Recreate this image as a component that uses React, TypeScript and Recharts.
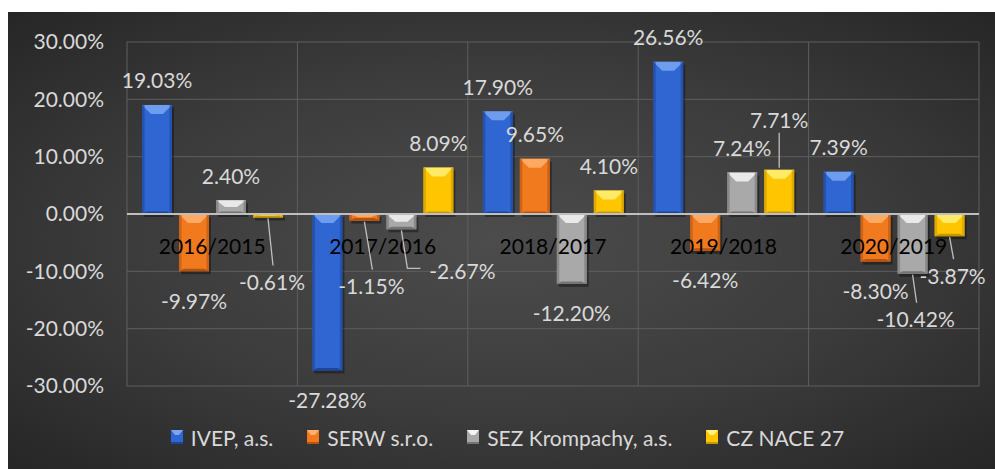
import { BarChart, Bar, XAxis, YAxis, CartesianGrid, ReferenceLine, Legend, LabelList } from 'recharts'

const categories = ['2016/2015', '2017/2016', '2018/2017', '2019/2018', '2020/2019']
const ivep = [19.03, -27.28, 17.9, 26.56, 7.39]
const serw = [-9.97, -1.15, 9.65, -6.42, -8.3]
const sez = [2.4, -2.67, -12.2, 7.24, -10.42]
const nace = [-0.61, 8.09, 4.1, 7.71, -3.87]
const yTicks = [-30, -20, -10, 0, 10, 20, 30]

const data = categories.map((name, i) => ({
  name,
  ivep: ivep[i],
  serw: serw[i],
  sez: sez[i],
  nace: nace[i],
}))

const series = [
  { key: 'ivep', name: 'IVEP, a.s.', base: '#2f66d2', light: '#79a6f4', dark: '#1c4597' },
  { key: 'serw', name: 'SERW s.r.o.', base: '#f27a1e', light: '#ffb070', dark: '#b5530f' },
  { key: 'sez', name: 'SEZ Krompachy, a.s.', base: '#a9a9a9', light: '#f4f4f4', dark: '#747474' },
  { key: 'nace', name: 'CZ NACE 27', base: '#ffc600', light: '#fff07a', dark: '#c89700' },
]

// label nudges (dx, dy) where excel moved a label out with a leader line
const labelShift: Record<string, ([number, number] | null)[]> = {
  ivep: [null, null, null, null, null],
  serw: [null, [7, 36], null, null, null],
  sez: [null, [61, 12], null, null, [3, 16]],
  nace: [[4, 35], null, null, [0, -25], [3, 10]],
}

const W = 987
const H = 457
const MARGIN = { top: 30, right: 16, left: 0, bottom: 20 }
const PLOT_H = 344
const FONT = 'Lato, "Open Sans", sans-serif'
const TEXT = '#d9d9d9'

const BevelBar = (props: any) => {
  const { x, y, width, height, base, light, dark } = props
  if (!width || height === undefined) return null
  const t = Math.min(y, y + height)
  const h = Math.abs(height)
  const w = width
  const b = Math.min(9, h / 2)
  const s = Math.min(2.5, h / 2)
  return (
    <g>
      <rect x={x + 2} y={t + 3} width={w} height={h} fill='rgba(0,0,0,0.35)' />
      <rect x={x} y={t} width={w} height={h} fill={base} />
      <polygon
        points={`${x},${t} ${x + w},${t} ${x + w / 2 + 6},${t + b} ${x + w / 2 - 6},${t + b}`}
        fill={light}
        opacity={0.85}
      />
      <polygon
        points={`${x},${t + h} ${x + w},${t + h} ${x + w - s * 2},${t + h - s} ${x + s * 2},${t + h - s}`}
        fill={dark}
      />
      <rect x={x} y={t} width={s} height={h} fill={dark} opacity={0.6} />
      <rect x={x + w - s} y={t} width={s} height={h} fill={dark} opacity={0.6} />
    </g>
  )
}

const makeLabel = (key: string) => (props: any) => {
  const { x, y, width, height, value, index } = props
  const top = Math.min(y, y + height)
  const bottom = Math.max(y, y + height)
  const cx = x + width / 2
  const pos = value >= 0
  const baseY = pos ? top - 25 : bottom + 29
  const shift = labelShift[key][index]
  const lx = shift ? cx + shift[0] : cx
  const ly = shift ? baseY + shift[1] : baseY
  let leader = null
  if (shift) {
    if (pos) {
      leader = <line x1={cx} y1={top - 2} x2={lx} y2={ly + 13} stroke='#bfbfbf' strokeWidth={1.3} />
    } else if (shift[0] > 20) {
      leader = (
        <polyline
          points={`${cx},${bottom + 1} ${cx + 6},${ly - 2} ${lx - 42},${ly - 2}`}
          fill='none'
          stroke='#bfbfbf'
          strokeWidth={1.3}
        />
      )
    } else {
      leader = <line x1={cx} y1={bottom + 1} x2={lx + 1} y2={ly - 16} stroke='#bfbfbf' strokeWidth={1.3} />
    }
  }
  return (
    <g>
      {leader}
      <text x={lx} y={ly} fill={TEXT} fontSize={21} fontFamily={FONT} textAnchor='middle' dominantBaseline='central'>
        {value.toFixed(2)}%
      </text>
    </g>
  )
}

const CategoryTick = (props: any) => {
  const { x, y, payload } = props
  return (
    <text
      x={x}
      y={y - PLOT_H / 2 + 31}
      fill='#000'
      fontSize={21}
      fontFamily={FONT}
      textAnchor='middle'
      dominantBaseline='central'
    >
      {payload.value}
    </text>
  )
}

const LegendIcon = ({ base, light, dark }: any) => (
  <svg width={12} height={14} style={{ marginRight: 8 }}>
    <rect x={0} y={0} width={12} height={14} fill={base} />
    <polygon points='0,0 12,0 8,5 4,5' fill={light} />
    <rect x={0} y={12} width={12} height={2} fill={dark} />
  </svg>
)

const renderLegend = () => (
  <div
    style={{
      display: 'flex',
      justifyContent: 'center',
      alignItems: 'center',
      height: 24,
      paddingLeft: 62,
      fontFamily: FONT,
      fontSize: 21,
      color: TEXT,
    }}
  >
    {series.map((s) => (
      <div key={s.key} style={{ display: 'flex', alignItems: 'center', marginRight: 34 }}>
        <LegendIcon {...s} />
        <span>{s.name}</span>
      </div>
    ))}
  </div>
)

export default function App() {
  return (
    <div
      style={{
        position: 'absolute',
        left: 8,
        top: 12,
        width: W,
        height: H,
        background: 'radial-gradient(ellipse at 50% 50%, #4c4c4c 0%, #3b3b3b 55%, #262626 100%)',
      }}
    >
      <BarChart width={W} height={H} data={data} margin={MARGIN} barSize={30} barGap={7}>
        <CartesianGrid
          stroke='#5e5e5e'
          strokeWidth={1}
          verticalCoordinatesGenerator={({ offset }: any) =>
            [0, 1, 2, 3, 4, 5].map((i) => offset.left + (i * offset.width) / 5)
          }
        />
        <XAxis
          dataKey='name'
          axisLine={false}
          tickLine={false}
          tickSize={0}
          tickMargin={0}
          height={39}
          tick={<CategoryTick />}
          interval={0}
        />
        <YAxis
          domain={[-30, 30]}
          ticks={yTicks}
          width={119}
          axisLine={false}
          tickLine={false}
          tickSize={0}
          tickMargin={23}
          tickFormatter={(v: number) => `${v.toFixed(2)}%`}
          tick={{ fill: TEXT, fontSize: 21, fontFamily: FONT }}
        />
        <Legend verticalAlign='bottom' content={renderLegend} />
        {series.map((s) => (
          <Bar
            key={s.key}
            dataKey={s.key}
            name={s.name}
            fill={s.base}
            isAnimationActive={false}
            shape={(p: any) => <BevelBar {...p} base={s.base} light={s.light} dark={s.dark} />}
          >
            <LabelList dataKey={s.key} content={makeLabel(s.key)} />
          </Bar>
        ))}
        <ReferenceLine y={0} stroke='#bfbfbf' strokeWidth={2} />
      </BarChart>
    </div>
  )
}
